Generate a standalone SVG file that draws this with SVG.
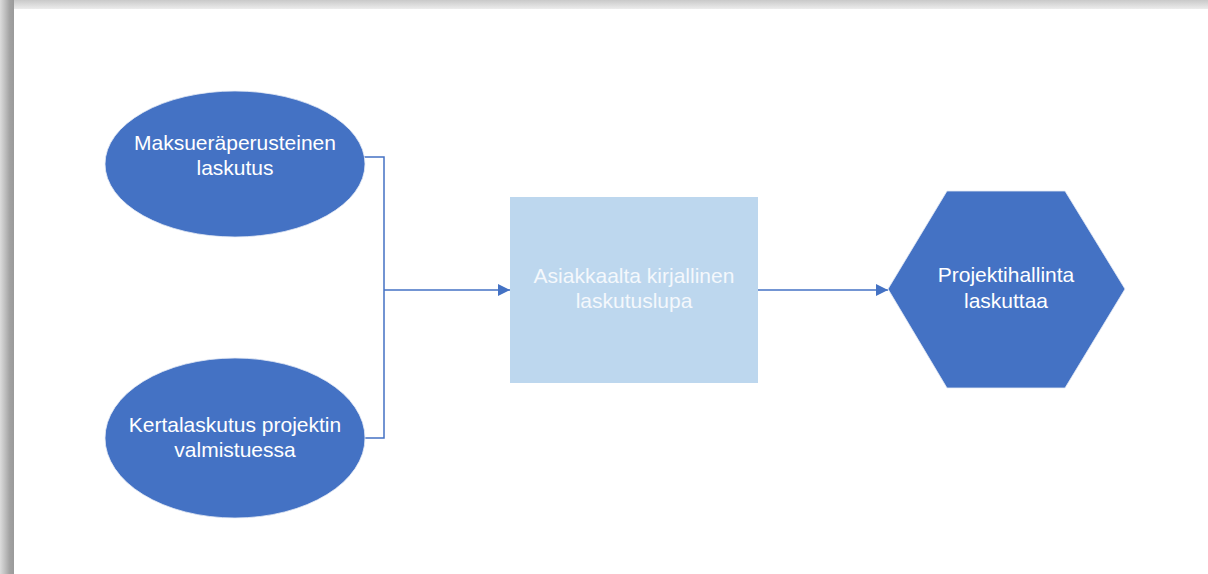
<svg xmlns="http://www.w3.org/2000/svg" width="1208" height="574" viewBox="0 0 1208 574">
  <defs>
    <linearGradient id="edgeTop" x1="0" y1="0" x2="0" y2="1">
      <stop offset="0" stop-color="#c9c9c9"/>
      <stop offset="1" stop-color="#ececec"/>
    </linearGradient>
    <linearGradient id="edgeLeft" x1="0" y1="0" x2="1" y2="0">
      <stop offset="0" stop-color="#dcdcdc"/>
      <stop offset="0.3" stop-color="#c4c4c4"/>
      <stop offset="0.7" stop-color="#a2a2a2"/>
      <stop offset="1" stop-color="#9a9a9a"/>
    </linearGradient>
    <marker id="arrow" viewBox="0 0 12 12" refX="12" refY="6" markerWidth="12" markerHeight="12" markerUnits="userSpaceOnUse" orient="auto">
      <path d="M0,0 L12,6 L0,12 Z" fill="#4472c4"/>
    </marker>
    <style>
      .dark { fill: #4472c4; stroke: #e6ebf5; stroke-width: 0.8; }
      .light { fill: #bdd7ee; }
      .label { font-family: "Liberation Sans", Arial, sans-serif; font-size: 21px; fill: #ffffff; text-anchor: middle; }
      .faint { fill: #f4f8fc; }
      .link { fill: none; stroke: #4472c4; stroke-width: 1.5; }
    </style>
  </defs>

  <!-- page and its shaded edges -->
  <rect x="0" y="0" width="1208" height="574" fill="#ffffff"/>
  <rect x="0" y="0" width="1208" height="9" fill="url(#edgeTop)"/>
  <rect x="0" y="0" width="14" height="574" fill="url(#edgeLeft)"/>

  <!-- connectors -->
  <g id="connectors">
    <polyline class="link" points="364,157 384,157 384,438 365,438"/>
    <polyline class="link" points="384,290 510,290" marker-end="url(#arrow)"/>
    <polyline class="link" points="758,290 888,290" marker-end="url(#arrow)"/>
  </g>

  <g id="node-maksuera">
    <ellipse class="dark" cx="235" cy="164" rx="130" ry="73"/>
    <text class="label" x="235" y="150">Maksueräperusteinen</text>
    <text class="label" x="235" y="174.5">laskutus</text>
  </g>

  <g id="node-kertalaskutus">
    <ellipse class="dark" cx="235" cy="438" rx="130" ry="80"/>
    <text class="label" x="235" y="432">Kertalaskutus projektin</text>
    <text class="label" x="235" y="457">valmistuessa</text>
  </g>

  <g id="node-laskutuslupa">
    <rect class="light" x="510" y="197" width="248" height="186"/>
    <text class="label faint" x="634" y="283">Asiakkaalta kirjallinen</text>
    <text class="label faint" x="634" y="308">laskutuslupa</text>
  </g>

  <g id="node-projektihallinta">
    <polygon class="dark" points="888,289 947,191 1065,191 1125,289 1065,388 947,388"/>
    <text class="label" x="1006" y="282">Projektihallinta</text>
    <text class="label" x="1006" y="308">laskuttaa</text>
  </g>
</svg>
